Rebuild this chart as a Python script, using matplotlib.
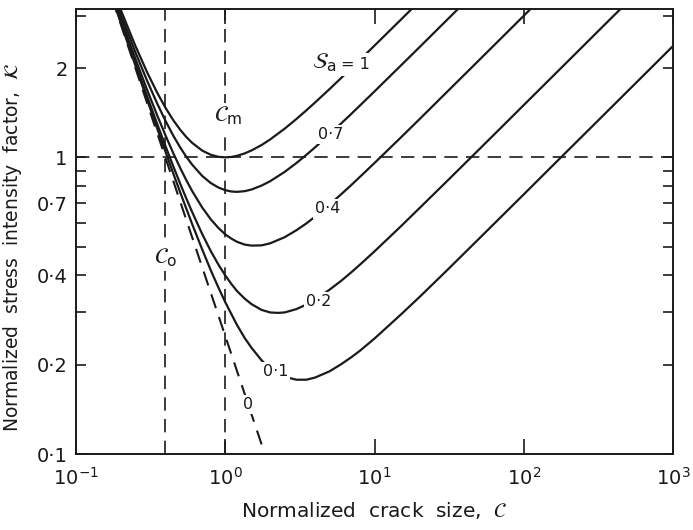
import matplotlib
matplotlib.use("Agg")
import matplotlib.pyplot as plt
from matplotlib.ticker import FixedLocator, FixedFormatter, NullLocator, LogFormatterSciNotation

# ---- data ----
C_sa1 = [0.12, 0.15, 0.2, 0.25, 0.3, 0.35, 0.4, 0.45, 0.5, 0.55, 0.6, 0.7, 0.8, 0.9, 1.0,
         1.1, 1.2, 1.35, 1.5, 1.75, 2.0, 2.5, 3.0, 3.5, 4.0, 5.0, 6.0, 7.0, 8.0, 10.0,
         15.0, 20.0]
K_sa1 = [6.27, 4.59, 3.13, 2.375, 1.932, 1.651, 1.462, 1.331, 1.237, 1.169, 1.119, 1.054,
         1.020, 1.004, 1.000, 1.003, 1.012, 1.031, 1.055, 1.100, 1.149, 1.249, 1.347,
         1.441, 1.531, 1.699, 1.854, 1.998, 2.132, 2.380, 2.909, 3.357]

C_sa07 = [0.12, 0.15, 0.2, 0.25, 0.3, 0.35, 0.4, 0.45, 0.5, 0.55, 0.6, 0.7, 0.8, 0.9, 1.0,
          1.1, 1.2, 1.35, 1.5, 1.75, 2.0, 2.5, 3.0, 3.5, 4.0, 5.0, 6.0, 7.0, 8.0, 10.0,
          15.0, 20.0, 30.0, 40.0]
K_sa07 = [6.20, 4.51, 3.03, 2.26, 1.809, 1.518, 1.320, 1.180, 1.078, 1.002, 0.945, 0.866,
          0.819, 0.791, 0.775, 0.767, 0.765, 0.769, 0.779, 0.803, 0.831, 0.893, 0.957,
          1.020, 1.081, 1.196, 1.303, 1.402, 1.496, 1.668, 2.038, 2.350, 2.877, 3.32]

C_sa04 = [0.12, 0.15, 0.2, 0.25, 0.3, 0.35, 0.4, 0.45, 0.5, 0.55, 0.6, 0.7, 0.8, 0.9, 1.0,
          1.1, 1.2, 1.35, 1.5, 1.75, 2.0, 2.5, 3.0, 3.5, 4.0, 5.0, 6.0, 7.0, 8.0, 10.0,
          15.0, 20.0, 30.0, 50.0, 70.0, 100.0, 120.0]
K_sa04 = [6.12, 4.42, 2.93, 2.15, 1.685, 1.385, 1.178, 1.029, 0.919, 0.835, 0.770, 0.678,
          0.618, 0.578, 0.550, 0.532, 0.519, 0.508, 0.504, 0.505, 0.513, 0.538, 0.568,
          0.599, 0.631, 0.693, 0.752, 0.807, 0.860, 0.957, 1.166, 1.344, 1.645, 2.122,
          2.510, 3.00, 3.29]

C_sa02 = [0.12, 0.15, 0.2, 0.25, 0.3, 0.35, 0.4, 0.45, 0.5, 0.55, 0.6, 0.7, 0.8, 0.9, 1.0,
          1.1, 1.2, 1.35, 1.5, 1.75, 2.0, 2.25, 2.5, 3.0, 3.5, 4.0, 5.0, 6.0, 7.0, 8.0,
          10.0, 15.0, 20.0, 30.0, 50.0, 70.0, 100.0, 150.0, 200.0, 300.0, 400.0, 500.0]
K_sa02 = [6.07, 4.36, 2.86, 2.075, 1.603, 1.296, 1.083, 0.929, 0.813, 0.724, 0.654, 0.552,
          0.483, 0.435, 0.400, 0.374, 0.354, 0.334, 0.320, 0.306, 0.300, 0.299, 0.300,
          0.308, 0.319, 0.331, 0.358, 0.384, 0.410, 0.435, 0.482, 0.585, 0.674, 0.823,
          1.061, 1.255, 1.50, 1.837, 2.121, 2.598, 3.00, 3.35]

C_sa01 = [0.12, 0.15, 0.2, 0.25, 0.3, 0.35, 0.4, 0.45, 0.5, 0.55, 0.6, 0.7, 0.8, 0.9, 1.0,
          1.1, 1.2, 1.35, 1.5, 1.75, 2.0, 2.25, 2.5, 3.0, 3.5, 4.0, 5.0, 6.0, 7.0, 8.0,
          10.0, 15.0, 20.0, 30.0, 50.0, 70.0, 100.0, 150.0, 200.0, 300.0, 500.0, 700.0,
          1000.0]
K_sa01 = [6.04, 4.33, 2.83, 2.04, 1.562, 1.251, 1.036, 0.878, 0.760, 0.669, 0.596, 0.490,
          0.416, 0.364, 0.325, 0.296, 0.272, 0.246, 0.228, 0.207, 0.194, 0.187, 0.182,
          0.178, 0.178, 0.181, 0.190, 0.201, 0.212, 0.223, 0.245, 0.295, 0.338, 0.412,
          0.531, 0.628, 0.750, 0.919, 1.061, 1.299, 1.677, 1.984, 2.372]

C_sa0 = [0.12, 0.15, 0.2, 0.3, 0.5, 1.0, 1.5, 2.0]
K_sa0 = [6.01, 4.30, 2.80, 1.52, 0.707, 0.25, 0.136, 0.0884]

C_o = 0.397
C_m = 1.0
K_ref = 1.0

y_ticks = [0.1, 0.2, 0.3, 0.4, 0.5, 0.6, 0.7, 0.8, 0.9, 1.0, 2.0, 3.0]
y_tick_labels = ["0·1", "0·2", "", "0·4", "", "", "0·7", "", "", "1", "2", ""]
x_ticks = [0.1, 1.0, 10.0, 100.0, 1000.0]

# ---- figure ----
W, H = 693, 530
fig = plt.figure(figsize=(W / 100, H / 100), dpi=100)
ax = fig.add_axes([76 / W, 1 - 454 / H, (673 - 76) / W, (454 - 9) / H])
ax.set_xscale("log")
ax.set_yscale("log")
ax.set_xlim(0.1, 1000)
ax.set_ylim(0.1, 10 ** 0.5)

ink = "#1a1a1a"
lw = 1.6
for Cs, Ks in [(C_sa1, K_sa1), (C_sa07, K_sa07), (C_sa04, K_sa04),
               (C_sa02, K_sa02), (C_sa01, K_sa01)]:
    ax.plot(Cs, Ks, color=ink, lw=lw, solid_capstyle="butt", solid_joinstyle="round",
            zorder=2)
ax.plot(C_sa0, K_sa0, color=ink, lw=1.5, dashes=(7, 4.5), zorder=2)

dash_kw = dict(color=ink, lw=1.2, dashes=(8, 5), zorder=1)
ax.axvline(C_o, **dash_kw)
ax.axvline(C_m, **dash_kw)
ax.axhline(K_ref, **dash_kw)

box = dict(facecolor="white", edgecolor="none", pad=1.5)
lab_kw = dict(fontsize=11.5, ha="center", va="center", color=ink, bbox=box, zorder=4)
ax.text(4.85, 0.67, "0·4", **lab_kw)
ax.text(5.07, 1.19, "0·7", **lab_kw)
ax.text(4.2, 0.326, "0·2", **lab_kw)
ax.text(2.17, 0.189, "0·1", **lab_kw)
ax.text(1.43, 0.147, "0", **lab_kw)
ax.text(4.6, 2.09, r"$\mathcal{S}_{\mathrm{a}}$", fontsize=16, ha="center",
        va="center", color=ink, bbox=dict(facecolor="white", edgecolor="none", pad=0.5),
        zorder=4)
ax.text(7.5, 2.06, "= 1", fontsize=11.5, ha="center", va="center", color=ink,
        bbox=dict(facecolor="white", edgecolor="none", pad=3.0), zorder=4)
ax.text(1.05, 1.38, r"$\mathcal{C}_{\mathrm{m}}$", fontsize=16, ha="center", va="center",
        color=ink, bbox=box, zorder=4)
ax.text(0.40, 0.46, r"$\mathcal{C}_{\mathrm{o}}$", fontsize=16, ha="center", va="center",
        color=ink, bbox=box, zorder=4)

# ticks
ax.xaxis.set_major_locator(FixedLocator(x_ticks))
ax.xaxis.set_major_formatter(LogFormatterSciNotation())
ax.xaxis.set_minor_locator(NullLocator())
ax.yaxis.set_major_locator(FixedLocator(y_ticks))
ax.yaxis.set_major_formatter(FixedFormatter(y_tick_labels))
ax.yaxis.set_minor_locator(NullLocator())
ax.tick_params(axis="x", which="major", direction="in", length=11, width=1.2,
               top=True, bottom=True, labelsize=14, pad=9, colors=ink)
ax.tick_params(axis="y", which="major", direction="in", length=7, width=1.2,
               left=True, right=True, labelsize=14, pad=6, colors=ink)
for s in ax.spines.values():
    s.set_linewidth(1.4)
    s.set_color(ink)

ax.set_xlabel(r"Normalized  crack  size,  $\mathcal{C}$", fontsize=14.5, color=ink,
              labelpad=8)
ax.set_ylabel(r"Normalized  stress  intensity  factor,  $\mathcal{K}$", fontsize=13.5,
              color=ink)
ax.yaxis.set_label_coords(-0.087, 0.465)

fig.savefig("out.png", dpi=100)
